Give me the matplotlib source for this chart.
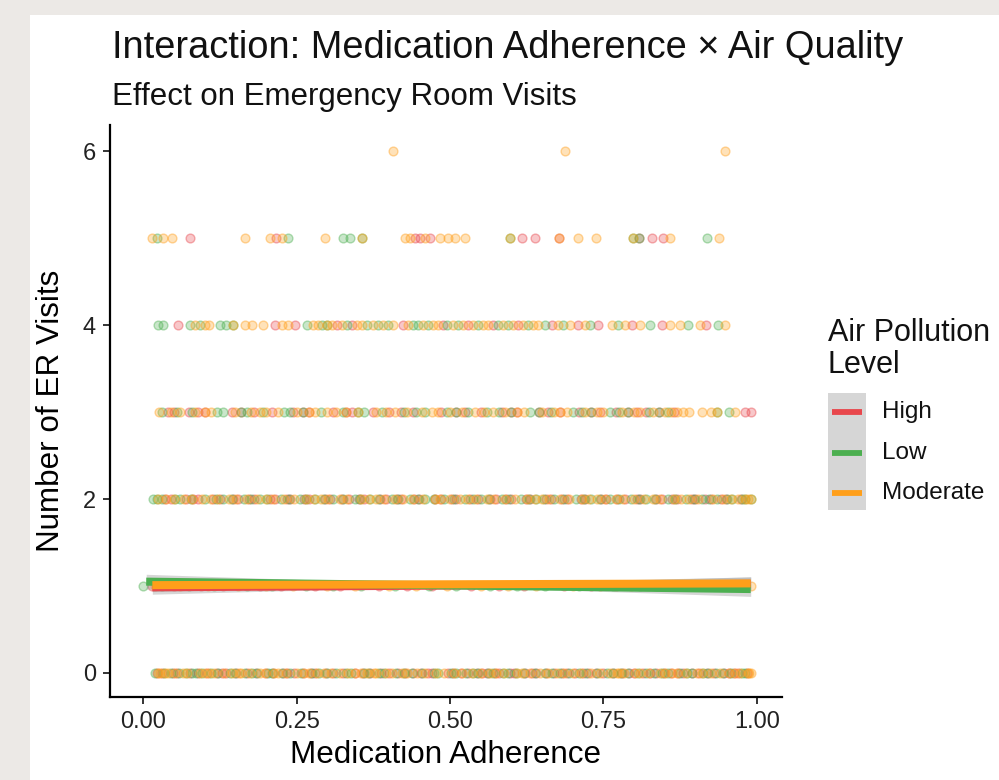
import matplotlib
matplotlib.use("Agg")
import matplotlib.pyplot as plt
from matplotlib.patches import Rectangle
from matplotlib.lines import Line2D
import numpy as np

plt.rcParams['font.family'] = ['Liberation Sans', 'DejaVu Sans']

# medication adherence (in %) of each visit count, by air pollution level
high_x = {
    0: [3, 5.5, 9, 12, 13.5, 17, 20, 23.5, 26, 28, 31, 34.5, 37, 40, 41.5, 44, 47, 50.5, 53, 56,
        58, 60.5, 64, 67, 69, 72.5, 75, 78, 80, 83.5, 86, 88, 90.5, 93, 95.5, 97,
        2.2, 4.8, 7.6, 10.4, 12.8, 15.2, 18.4, 21.2, 22.8, 24.6, 27.4, 29.8, 32.6, 35.8, 38.8,
        42.6, 45.2, 46.4, 49.6, 51.8, 54.4, 55.2, 57.4, 59.8, 62.2, 63.4, 65.6, 68.2, 70.4, 71.6,
        73.8, 76.6, 79.2, 81.4, 82.6, 84.8, 87.2, 89.4, 91.8, 94.6, 96.2, 98.4],
    1: [1.5, 5, 9.5, 13, 19, 22.5, 28, 32, 38.5, 43, 47, 53.5, 58, 62, 68.5, 73, 77, 83.5, 88, 92, 97],
    2: [4.5, 7, 9, 12.5, 15.5, 18, 21.5, 24, 27, 30.5, 33.5, 36, 39.5, 42, 45, 48.5, 51, 54.5, 57.5,
        60, 63, 66.5, 69, 72, 75.5, 78.5, 81, 84.5, 87, 90, 92.5, 95,
        3.6, 8.2, 11.4, 14.6, 17.2, 20.6, 23.4, 26.2, 29.6, 32.4, 35.2, 38.6, 41.4, 44.2, 47.6,
        50.4, 53.2, 56.6, 59.2, 62.4, 65.6, 68.2, 71.4, 74.6, 77.2, 80.4, 83.6, 86.2, 89.4, 91.6,
        94.2, 97.4],
    3: [4, 7.5, 10, 14.5, 18, 21, 24.5, 27, 31, 34, 37.5, 40, 44, 48.5, 51, 55, 58.5, 61, 64.5,
        68, 71, 74.5, 77, 80.5, 84, 86.5, 98, 99,
        5, 9, 16, 26, 33, 42, 52.5, 60, 66, 73, 79, 82],
    4: [5.7, 21.5, 24.8, 31.6, 34, 42.3, 48.9, 52.9, 57, 61.1, 66.6, 70.8, 74.1, 79.6, 84.5, 91.7],
    5: [7.7, 21.7, 44.3, 45.1, 46.7, 61.7, 63.8, 67.8, 80.8, 82.9, 84.7],
    6: [],
}
low_x = {
    0: [2, 4.5, 7, 8, 11, 15, 18.5, 21, 24, 27.5, 30, 33, 36, 38.5, 42.5, 45.5, 48, 51, 54.5, 57,
        59.5, 62, 65.5, 68, 71, 74, 76.5, 79, 82, 84.5, 87.5, 89.5, 92, 94.5, 98,
        3.4, 5.8, 8.6, 9.6, 12.2, 14.2, 16.6, 17.8, 20.4, 22.6, 25.8, 28.6, 31.4, 33.8, 36.8,
        39.2, 41.2, 43.8, 47.4, 50.2, 52.6, 53.8, 56.2, 58.6, 60.8, 63.8, 66.6, 69.4, 72.2, 75.6,
        77.8, 80.6, 83.2, 85.6, 88.6, 91.2, 93.4, 95.8, 97.6],
    1: [0, 3, 7.5, 11.5, 17, 21, 26.5, 31, 35.5, 41, 46.5, 51, 56.5, 61, 65.5, 71, 76.5, 81, 85.5, 91, 96],
    2: [1.6, 3, 6, 10, 13, 16.5, 19, 22.5, 25.5, 28, 31, 34.5, 37, 40.5, 43.5, 46, 49, 52.5, 55,
        58.5, 61.5, 64, 67, 70.5, 73, 76, 79.5, 82, 85.5, 88.5, 91, 93.5, 96, 98,
        2.2, 5.2, 7.8, 11.8, 14.4, 17.6, 20.2, 23.8, 26.6, 29.4, 32.6, 35.4, 38.4, 41.6, 44.8,
        47.4, 50.6, 53.8, 56.4, 59.6, 62.8, 65.4, 68.6, 71.8, 74.4, 77.6, 80.8, 83.4, 86.6, 89.8,
        92.2, 95.2, 97.6, 99],
    3: [3, 5.5, 12, 13, 16, 19.5, 23, 26, 29, 32.5, 36, 39, 42.5, 46, 49.5, 53, 56, 60, 63, 66.5,
        70, 73, 76, 79, 82.5, 85.5, 93.5, 95.5,
        8, 17, 24, 35, 44.5, 51, 58, 64.5, 71.5, 77.5, 84],
    4: [2.4, 3.3, 7.7, 9.3, 12.5, 13.5, 14.7, 26.7, 29.2, 30, 33.2, 36.5, 38.3, 39.9, 44, 44.8,
        46.4, 49.5, 51.3, 54.6, 57.8, 59.4, 62.7, 65.5, 68.4, 72.8, 77.4, 82.6, 88.8, 93.6],
    5: [2.3, 23.6, 32.6, 33.7, 35.7, 59.8, 79.8, 80.8, 91.9],
    6: [],
}
mod_x = {
    0: [2.5, 4, 6.5, 10, 11.5, 14.5, 16, 19, 22, 25, 27, 29.5, 32, 35.5, 38, 39.5, 43, 46, 49, 52,
        55, 57.5, 61, 63, 66, 70, 73, 76, 77.5, 81, 85, 87, 91, 94, 96.5, 98.5, 99,
        2.8, 3.6, 5.2, 7.2, 9.2, 10.8, 13.2, 15.6, 17.4, 19.8, 21.4, 23.2, 26.2, 28.4, 30.6,
        33.4, 34.6, 36.4, 37.6, 40.6, 42.2, 44.6, 47.8, 50.6, 53.6, 56.6, 58.8, 61.8, 64.6, 67.4,
        68.6, 71.4, 74.4, 77.2, 78.4, 80.2, 82.4, 84.2, 86.2, 88.4, 90.2, 92.6, 95.4, 97.2, 98.8],
    1: [2, 6, 10.5, 15.5, 20, 24.5, 30, 34.5, 40, 44.5, 49.5, 55, 59.5, 64, 70, 74.5, 79.5, 84.5, 89.5, 95, 99],
    2: [2.5, 5, 8, 11, 14, 17, 20, 23, 26.5, 29, 32, 35.5, 38, 41, 44, 47.5, 50, 53, 56, 59, 62.5,
        65, 68, 71.5, 74, 77, 80, 83, 86.5, 89, 94.5, 97, 98.5, 99,
        3.8, 6.6, 9.6, 12.2, 15.2, 18.6, 21.2, 24.6, 27.8, 30.2, 33.2, 36.8, 39.2, 42.4, 45.6,
        48.4, 51.6, 54.2, 57.2, 60.6, 63.8, 66.2, 69.4, 72.6, 75.2, 78.2, 81.6, 84.2, 87.6, 90.4,
        92.8, 95.8, 98],
    3: [2.6, 6, 8.5, 11, 15, 17.5, 20, 22, 25, 28, 30, 33, 35, 38, 41, 43, 45.5, 47, 50, 52, 54,
        57, 59, 62, 65, 67, 69, 72, 75, 78, 81, 83, 85, 87, 88, 89, 91, 92.5, 93.5, 96.5,
        4.5, 10, 19, 27, 31.5, 39.5, 48, 55.5, 61, 68, 74, 80, 86],
    4: [8.5, 10.1, 10.7, 14.7, 16.6, 17.8, 19.5, 22.6, 23.6, 27.7, 28.5, 30, 30.8, 32.4, 34.9,
        35.7, 37.5, 39.1, 40.7, 43.2, 45.6, 47.2, 48, 50.5, 52.1, 53.7, 55.4, 56.2, 58.6, 60.3,
        61.9, 63.5, 64.3, 67.6, 69.5, 72, 76.4, 78.5, 80.9, 85.8, 87.5, 90.7, 94.8],
    5: [1.5, 3.3, 4.7, 16.6, 20.7, 22.6, 29.6, 35.7, 42.7, 43.5, 45.9, 48.4, 49.7, 50.8, 52.4,
        59.8, 67.8, 70.8, 73.8, 79.8, 85.8, 93.9],
    6: [40.7, 68.7, 94.8],
}

levels = ['High', 'Low', 'Moderate']
level_points = [high_x, low_x, mod_x]
colors = ['#E8474C', '#4CAF50', '#FF9F1A']

# linear fit per level: adherence at each end and fitted visits
fit_x = [[0.015, 0.99], [0.005, 0.99], [0.015, 0.99]]
fit_y = [[0.985, 1.025], [1.05, 0.965], [1.01, 1.03]]
band_mid = [0.025, 0.025, 0.022]   # half width of the ribbon at mean adherence
band_end = [0.08, 0.085, 0.075]    # half width at the ends

fig = plt.figure(figsize=(9.99, 7.8), dpi=100)
fig.patch.set_facecolor('#ECE9E6')
W, H = 999, 780


def fx(px):
    return px / W


def fy(py):
    return 1 - py / H


# white card on the paper backdrop
fig.patches.append(Rectangle((fx(30), 0), 1 - fx(30), fy(15), transform=fig.transFigure,
                             facecolor='white', edgecolor='none', zorder=-5))

ax = fig.add_axes([fx(110), fy(697), fx(782) - fx(110), fy(125) - fy(697)])
ax.set_facecolor('white')

for pts, c in zip(level_points, colors):
    xs, ys = [], []
    for visits, vals in pts.items():
        xs += [v / 100 for v in vals]
        ys += [visits] * len(vals)
    rgb = matplotlib.colors.to_rgb(c)
    ax.scatter(xs, ys, s=40, facecolor=rgb + (0.3,), edgecolor=rgb + (0.42,),
               linewidth=1.0, zorder=2)

for fxs, fys, bm, be, c in zip(fit_x, fit_y, band_mid, band_end, colors):
    xx = np.linspace(fxs[0], fxs[1], 60)
    yy = np.interp(xx, fxs, fys)
    centre = 0.5
    k = np.sqrt(be ** 2 - bm ** 2) / max(abs(fxs[0] - centre), abs(fxs[1] - centre))
    hw = np.sqrt(bm ** 2 + (k * (xx - centre)) ** 2)
    ax.fill_between(xx, yy - hw, yy + hw, color='#999999', alpha=0.4, linewidth=0, zorder=3)
    ax.plot(fxs, fys, color=c, linewidth=5.8, solid_capstyle='butt', zorder=4)

ax.set_xlim(-0.054, 1.041)
ax.set_ylim(-0.276, 6.3)
ax.set_xticks([0, 0.25, 0.5, 0.75, 1.0])
ax.set_xticklabels(['0.00', '0.25', '0.50', '0.75', '1.00'])
ax.set_yticks([0, 2, 4, 6])
for side in ['top', 'right']:
    ax.spines[side].set_visible(False)
for side in ['left', 'bottom']:
    ax.spines[side].set_linewidth(1.6)
    ax.spines[side].set_color('black')
ax.tick_params(length=5, width=1.4, color='#333333', labelsize=17, labelcolor='#222222', pad=5)

ax.set_xlabel('Medication Adherence', fontsize=22.6, color='black', labelpad=5)
ax.set_ylabel('Number of ER Visits', fontsize=22.6, color='black', labelpad=12)

fig.text(fx(112), fy(58), 'Interaction: Medication Adherence \u00d7 Air Quality',
         fontsize=27.4, va='baseline', ha='left', color='#111111')
fig.text(fx(112), fy(105), 'Effect on Emergency Room Visits',
         fontsize=22.5, va='baseline', ha='left', color='#111111')

# legend
fig.text(fx(828), fy(349), 'Air Pollution\nLevel', fontsize=22, ha='left', va='center',
         linespacing=1.05, color='#111111')
fig.patches.append(Rectangle((fx(828), fy(510)), fx(866) - fx(828), fy(393) - fy(510),
                             transform=fig.transFigure, facecolor='#D6D6D6',
                             edgecolor='none', zorder=1))
for i, (lab, c) in enumerate(zip(levels, colors)):
    yk = 412 + i * 40.5
    fig.lines.append(Line2D([fx(832), fx(862)], [fy(yk), fy(yk)], transform=fig.transFigure,
                            color=c, linewidth=4.2, solid_capstyle='butt', zorder=2))
    fig.text(fx(882), fy(yk), lab, fontsize=17.5, ha='left', va='center', color='#111111')

fig.savefig('out.png', dpi=100, facecolor=fig.get_facecolor())
